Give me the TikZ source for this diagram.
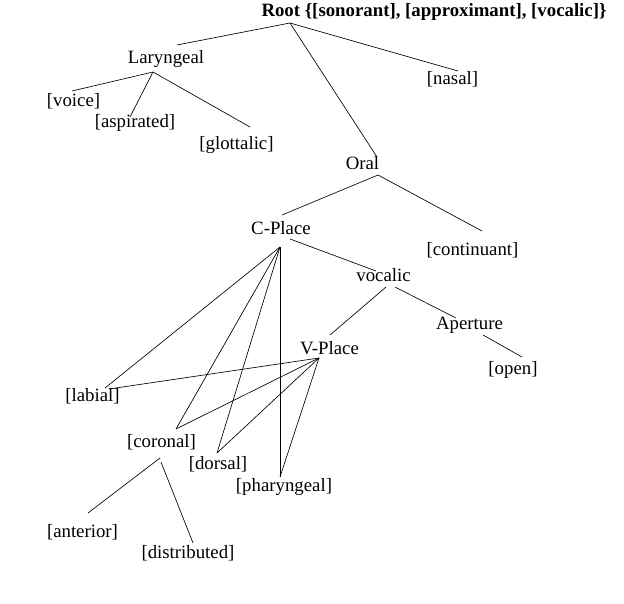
\documentclass[tikz,border=0pt]{standalone}
\usepackage{fontspec}
\setmainfont{Liberation Serif}
\begin{document}
\begin{tikzpicture}[x=1pt,y=-1pt,
  lbl/.style={anchor=base,inner sep=0pt,font=\fontsize{18.8}{20}\selectfont},
  rootlbl/.style={lbl,font=\fontsize{18.8}{20}\selectfont\bfseries},
  edge/.style={line width=0.65pt},
  thickedge/.style={line width=1pt}]
\useasboundingbox[fill=white] (0,0) rectangle (624,604);
% labels
\node[rootlbl] (root) at (434,17) {Root \{[sonorant], [approximant], [vocalic]\}};
\node[lbl] (lar) at (166,64) {Laryngeal};
\node[lbl] (nas) at (452.5,85) {[nasal]};
\node[lbl] (voi) at (73.5,107) {[voice]};
\node[lbl] (asp) at (135,128) {[aspirated]};
\node[lbl] (glo) at (236.5,150) {[glottalic]};
\node[lbl] (oral) at (362.5,170) {Oral};
\node[lbl] (cp) at (281,235) {C-Place};
\node[lbl] (con) at (472.5,256) {[continuant]};
\node[lbl] (voc) at (383.5,282) {vocalic};
\node[lbl] (ap) at (469.5,329) {Aperture};
\node[lbl] (op) at (513,374) {[open]};
\node[lbl] (vp) at (329.5,354) {V-Place};
\node[lbl] (lab) at (92.5,401) {[labial]};
\node[lbl] (cor) at (161.5,447) {[coronal]};
\node[lbl] (dor) at (218,469) {[dorsal]};
\node[lbl] (pha) at (284,491) {[pharyngeal]};
\node[lbl] (ant) at (82.5,537) {[anterior]};
\node[lbl] (dis) at (188,558) {[distributed]};
% connector end points
\coordinate (rootJ) at (290,23);
\coordinate (larT) at (177,45);
\coordinate (nasT) at (458,71);
\coordinate (oralT) at (377,157);
\coordinate (larJ) at (153,72);
\coordinate (voiT) at (72,91);
\coordinate (aspT) at (130,117);
\coordinate (gloT) at (250,127);
\coordinate (oralJ) at (378,175);
\coordinate (cpT) at (282,215);
\coordinate (conT) at (482,231);
\coordinate (cpR) at (290,239);
\coordinate (vocT) at (376,271);
\coordinate (cpJ) at (280,247);
\coordinate (vocJ) at (386,287);
\coordinate (vocR) at (395,287);
\coordinate (vpT) at (330,335);
\coordinate (apT) at (456,318);
\coordinate (apJ) at (483,335);
\coordinate (opT) at (522,357);
\coordinate (vpJ) at (319,358);
\coordinate (labT) at (105,388);
\coordinate (labT2) at (109,389);
\coordinate (corT) at (176,429);
\coordinate (dorT) at (217,453);
\coordinate (phaT) at (280,477);
\coordinate (corJ) at (160,458);
\coordinate (corR) at (161,462);
\coordinate (antT) at (88,513);
\coordinate (disT) at (193,543);
% connectors
\draw[edge] (rootJ) -- (larT);
\draw[edge] (rootJ) -- (nasT);
\draw[edge] (rootJ) -- (oralT);
\draw[edge] (larJ) -- (voiT);
\draw[edge] (larJ) -- (aspT);
\draw[edge] (larJ) -- (gloT);
\draw[edge] (oralJ) -- (cpT);
\draw[edge] (oralJ) -- (conT);
\draw[edge] (cpR) -- (vocT);
\draw[edge] (vocJ) -- (vpT);
\draw[edge] (vocR) -- (apT);
\draw[edge] (apJ) -- (opT);
\draw[edge] (cpJ) -- (labT);
\draw[edge] (cpJ) -- (corT);
\draw[edge] (cpJ) -- (dorT);
\draw[thickedge] (cpJ) -- (phaT);
\draw[edge] (vpJ) -- (labT2);
\draw[edge] (vpJ) -- (corT);
\draw[edge] (vpJ) -- (dorT);
\draw[edge] (vpJ) -- (phaT);
\draw[edge] (corJ) -- (antT);
\draw[edge] (corR) -- (disT);
\end{tikzpicture}
\end{document}
